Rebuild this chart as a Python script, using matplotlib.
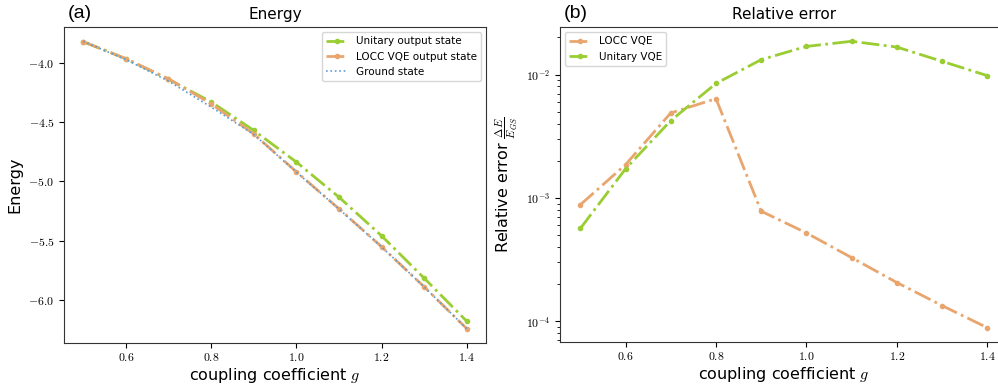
import numpy as np
import matplotlib
matplotlib.use('Agg')
import matplotlib.pyplot as plt
from matplotlib.ticker import FuncFormatter, LogLocator

plt.rcParams['font.family'] = ['DejaVu Sans']
plt.rcParams['mathtext.fontset'] = 'cm'

# coupling coefficient values
g = [0.5, 0.6, 0.7, 0.8, 0.9, 1.0, 1.1, 1.2, 1.3, 1.4]

# energies
e_unitary = [-3.823, -3.966, -4.140, -4.330, -4.570, -4.837, -5.133, -5.459, -5.816, -6.180]
e_locc = [-3.823, -3.966, -4.135, -4.346, -4.600, -4.919, -5.231, -5.551, -5.889, -6.242]
e_ground = [-3.820, -3.973, -4.155, -4.373, -4.604, -4.922, -5.233, -5.552, -5.890, -6.242]

# relative errors
err_locc = [8.8e-4, 1.86e-3, 4.88e-3, 6.37e-3, 7.8e-4, 5.2e-4, 3.28e-4, 2.06e-4, 1.34e-4, 8.87e-5]
err_unitary = [5.65e-4, 1.72e-3, 4.23e-3, 8.46e-3, 1.32e-2, 1.69e-2, 1.86e-2, 1.67e-2, 1.28e-2, 9.8e-3]

green = '#9ACD32'
orange = '#E9A56E'
blue = '#5B9BD5'

fig = plt.figure(figsize=(9.98, 3.87), dpi=100)
ax1 = fig.add_axes([0.0641, 0.1137, 0.4228, 0.8166])
ax2 = fig.add_axes([0.5611, 0.1163, 0.4485, 0.814])

# panel (a)
ax1.plot(g, e_unitary, linestyle='-.', marker='.', color=green, lw=2, ms=6,
         label='Unitary output state')
ax1.plot(g, e_locc, linestyle='-.', marker='.', color=orange, lw=2, ms=6,
         label='LOCC VQE output state')
ax1.plot(g, e_ground, linestyle=':', color=blue, lw=1.2, label='Ground state')
ax1.set_title('Energy', fontsize=11)
ax1.set_xlabel('coupling coefficient $g$', fontsize=11.5, labelpad=1)
ax1.set_ylabel('Energy', fontsize=11.5)
ax1.set_xticks([0.6, 0.8, 1.0, 1.2, 1.4])
ax1.set_yticks([-4.0, -4.5, -5.0, -5.5, -6.0])
ax1.xaxis.set_major_formatter(FuncFormatter(lambda v, p: f'${v:.1f}$'))
ax1.yaxis.set_major_formatter(FuncFormatter(lambda v, p: f'${v:.1f}$'))
ax1.tick_params(labelsize=8.5)
ax1.tick_params(axis='x', pad=2.5)
ax1.legend(loc='upper right', fontsize=7.5)
ax1.text(0.01, 1.015, '(a)', transform=ax1.transAxes, fontsize=14,
         family='Liberation Sans', va='bottom', ha='left')

# panel (b)
ax2.plot(g, err_locc, linestyle='-.', marker='.', color=orange, lw=2, ms=6,
         label='LOCC VQE')
ax2.plot(g, err_unitary, linestyle='-.', marker='.', color=green, lw=2, ms=6,
         label='Unitary VQE')
ax2.set_yscale('log')
ax2.set_title('Relative error', fontsize=11)
ax2.set_xlabel('coupling coefficient $g$', fontsize=11.5, labelpad=1)
ax2.set_ylabel(r'Relative error $\frac{\Delta E}{E_{GS}}$', fontsize=11.5)
ax2.set_xticks([0.6, 0.8, 1.0, 1.2, 1.4])
ax2.xaxis.set_major_formatter(FuncFormatter(lambda v, p: f'${v:.1f}$'))
ax2.yaxis.set_major_locator(LogLocator(base=10))
ax2.yaxis.set_major_formatter(FuncFormatter(lambda v, p: f'$10^{{{int(round(np.log10(v)))}}}$'))
ax2.tick_params(labelsize=8.5)
ax2.tick_params(axis='x', pad=2.5)
ax2.legend(loc='upper left', fontsize=7.5)
ax2.text(0.008, 1.015, '(b)', transform=ax2.transAxes, fontsize=14,
         family='Liberation Sans', va='bottom', ha='left')

for ax in (ax1, ax2):
    for s in ax.spines.values():
        s.set_color('#333333')

fig.savefig('out.png', dpi=100)
